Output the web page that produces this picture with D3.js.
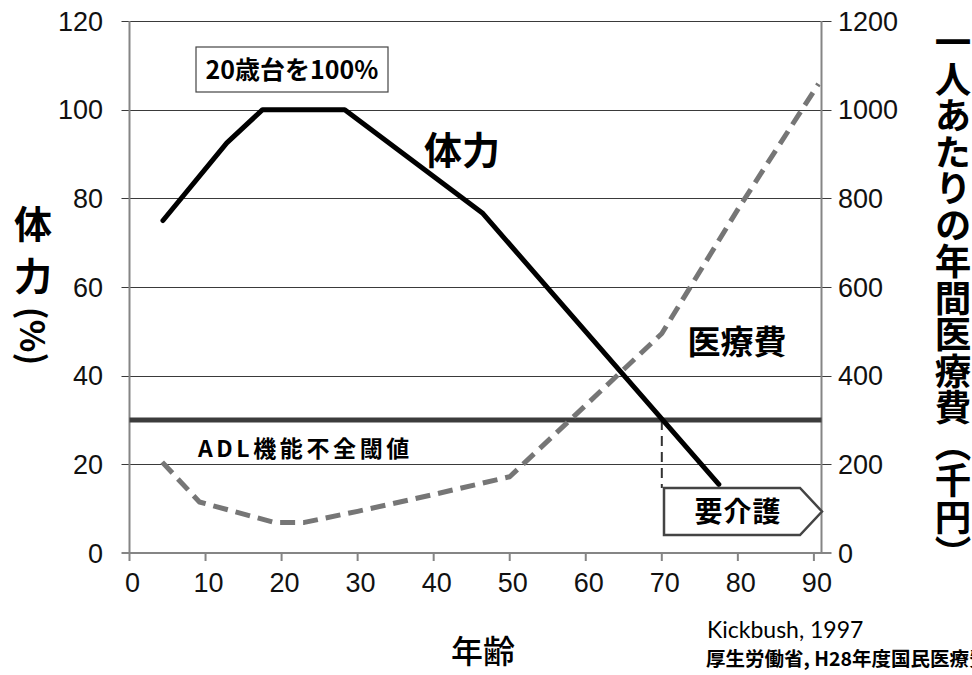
<!DOCTYPE html>
<html>
<head>
<meta charset="utf-8">
<script src="https://cdn.jsdelivr.net/npm/d3@7"></script>
<style>
  html, body { margin: 0; padding: 0; background: #fff; }
  svg { display: block; }
  .jp { font-family: "Noto Sans CJK JP", "Noto Sans CJK SC", sans-serif; }
  .num { font-family: "Liberation Sans", Arial, sans-serif; }
</style>
</head>
<body>
<svg id="chart" width="972" height="675"></svg>
<script>
// Age axis ticks and value axis ticks
const ageTicks = [0, 10, 20, 30, 40, 50, 60, 70, 80, 90];
const staminaTicks = [0, 20, 40, 60, 80, 100, 120];
const costTicks = [0, 200, 400, 600, 800, 1000, 1200];

// Physical strength (% of the 20s level) by age
const staminaAges = [4.4, 12.8, 17.5, 28.3, 46.4, 77.5];
const staminaValues = [75, 92.5, 100, 100, 76.7, 15.5];

// Annual medical cost per person (thousand yen) by age
const costAges = [4.3, 9.2, 19, 23, 30, 40, 50, 70, 80, 90.6];
const costValues = [205, 115, 69, 69, 94, 132, 172, 495, 775, 1058];

// ADL threshold (%) and the age where strength crosses it
const adlThreshold = 30;
const careAge = 70;

const svg = d3.select("#chart");
const plotL = 129.5, plotR = 821.5, plotT = 21, plotB = 553;

const x = d3.scaleLinear().domain([0, 91]).range([plotL, plotR]);
const yL = d3.scaleLinear().domain([0, 120]).range([plotB, plotT]);
const yR = d3.scaleLinear().domain([0, 1200]).range([plotB, plotT]);

// horizontal gridlines (extend past both axes as tick marks)
svg.append("g")
  .selectAll("line")
  .data(staminaTicks.filter(d => d > 0))
  .join("line")
  .attr("x1", plotL - 8).attr("x2", plotR + 10)
  .attr("y1", d => Math.round(yL(d)) + 0.5).attr("y2", d => Math.round(yL(d)) + 0.5)
  .attr("stroke", "#3a3a3a").attr("stroke-width", 1);

// axis lines
const axisColor = "#858585";
svg.append("line").attr("x1", plotL).attr("x2", plotL).attr("y1", plotT).attr("y2", plotB + 1)
  .attr("stroke", axisColor).attr("stroke-width", 2);
svg.append("line").attr("x1", plotR).attr("x2", plotR).attr("y1", plotT).attr("y2", plotB + 1)
  .attr("stroke", axisColor).attr("stroke-width", 2);
svg.append("line").attr("x1", plotL - 8).attr("x2", plotR + 10).attr("y1", plotB).attr("y2", plotB)
  .attr("stroke", axisColor).attr("stroke-width", 2);

// bottom tick marks
svg.append("g")
  .selectAll("line")
  .data(ageTicks)
  .join("line")
  .attr("x1", d => x(d)).attr("x2", d => x(d))
  .attr("y1", plotB).attr("y2", plotB + 8)
  .attr("stroke", axisColor).attr("stroke-width", 2);

// tick labels
svg.append("g").attr("class", "num")
  .selectAll("text")
  .data(staminaTicks)
  .join("text")
  .attr("x", 103).attr("y", d => yL(d))
  .attr("dy", "0.36em")
  .attr("text-anchor", "end")
  .attr("font-size", 27)
  .attr("fill", "#111")
  .text(d => d);

svg.append("g").attr("class", "num")
  .selectAll("text")
  .data(costTicks)
  .join("text")
  .attr("x", 838).attr("y", d => yR(d))
  .attr("dy", "0.36em")
  .attr("text-anchor", "start")
  .attr("font-size", 27)
  .attr("fill", "#111")
  .text(d => d);

svg.append("g").attr("class", "num")
  .selectAll("text")
  .data(ageTicks)
  .join("text")
  .attr("x", d => x(d) + 3).attr("y", 592)
  .attr("text-anchor", "middle")
  .attr("font-size", 27)
  .attr("fill", "#111")
  .text(d => d);

// ADL threshold line
svg.append("line")
  .attr("x1", plotL).attr("x2", plotR)
  .attr("y1", yL(adlThreshold)).attr("y2", yL(adlThreshold))
  .attr("stroke", "#3c3c3c").attr("stroke-width", 5);

// dashed drop line from the crossing to the care-needed marker
svg.append("line")
  .attr("x1", x(careAge)).attr("x2", x(careAge))
  .attr("y1", yL(adlThreshold)).attr("y2", 488)
  .attr("stroke", "#333").attr("stroke-width", 2)
  .attr("stroke-dasharray", "10,6");

// medical cost curve
const costLine = d3.line()
  .x((d, i) => x(costAges[i]))
  .y(d => yR(d));
svg.append("path")
  .attr("d", costLine(costValues))
  .attr("fill", "none")
  .attr("stroke", "#767676")
  .attr("stroke-width", 5)
  .attr("stroke-dasharray", "15,8")
  .attr("stroke-linejoin", "round");

// strength curve
const staminaLine = d3.line()
  .x((d, i) => x(staminaAges[i]))
  .y(d => yL(d));
svg.append("path")
  .attr("d", staminaLine(staminaValues))
  .attr("fill", "none")
  .attr("stroke", "#000")
  .attr("stroke-width", 5)
  .attr("stroke-linecap", "round")
  .attr("stroke-linejoin", "round");

// "20歳台を100%" note box
svg.append("rect")
  .attr("x", 196).attr("y", 47).attr("width", 192).attr("height", 45)
  .attr("fill", "#fff").attr("stroke", "#444").attr("stroke-width", 1.2);
svg.append("text").attr("class", "jp")
  .attr("x", 292).attr("y", 79)
  .attr("text-anchor", "middle")
  .attr("font-size", 25).attr("font-weight", 700)
  .text("20歳台を100%");

// series labels
svg.append("text").attr("class", "jp")
  .attr("x", 462).attr("y", 164)
  .attr("text-anchor", "middle")
  .attr("font-size", 38).attr("font-weight", 700)
  .text("体力");

svg.append("text").attr("class", "jp")
  .attr("x", 737).attr("y", 354)
  .attr("text-anchor", "middle")
  .attr("font-size", 33).attr("font-weight", 700)
  .text("医療費");

svg.append("text").attr("class", "jp")
  .attr("x", 198).attr("y", 457)
  .attr("font-size", 23).attr("font-weight", 700)
  .attr("letter-spacing", 3.6)
  .text("ADL機能不全閾値");

// care-needed arrow marker
const tag = d3.path();
tag.moveTo(664, 488);
tag.lineTo(800, 488);
tag.lineTo(822, 511.5);
tag.lineTo(800, 535);
tag.lineTo(664, 535);
tag.closePath();
svg.append("path")
  .attr("d", tag.toString())
  .attr("fill", "#fff").attr("stroke", "#444").attr("stroke-width", 2.5);
svg.append("text").attr("class", "jp")
  .attr("x", 738).attr("y", 522)
  .attr("text-anchor", "middle")
  .attr("font-size", 28).attr("font-weight", 700)
  .attr("letter-spacing", 1)
  .text("要介護");

// left axis title: two stacked characters, then the unit turned sideways
svg.append("text").attr("class", "jp")
  .attr("x", 33).attr("y", 238)
  .attr("text-anchor", "middle")
  .attr("font-size", 38).attr("font-weight", 700)
  .text("体");
svg.append("text").attr("class", "jp")
  .attr("x", 33).attr("y", 290)
  .attr("text-anchor", "middle")
  .attr("font-size", 38).attr("font-weight", 700)
  .text("力");
svg.append("text").attr("class", "jp")
  .attr("transform", "translate(20,336) rotate(90)")
  .attr("text-anchor", "middle")
  .attr("font-size", 34).attr("font-weight", 700)
  .text("(%)");

// right axis title, set vertically
svg.append("text").attr("class", "jp")
  .attr("x", 953).attr("y", 24)
  .style("writing-mode", "vertical-rl")
  .style("text-orientation", "mixed")
  .attr("font-size", 36.5).attr("font-weight", 700)
  .text("一人あたりの年間医療費（千円）");

// x axis title
svg.append("text").attr("class", "jp")
  .attr("x", 483).attr("y", 663)
  .attr("text-anchor", "middle")
  .attr("font-size", 32).attr("font-weight", 500)
  .text("年齢");

// sources
svg.append("text")
  .attr("x", 707).attr("y", 638)
  .attr("font-family", "Lato, 'Open Sans', sans-serif")
  .attr("font-size", 23)
  .text("Kickbush, 1997");
svg.append("text").attr("class", "jp")
  .attr("x", 706).attr("y", 666)
  .attr("font-size", 19.5).attr("font-weight", 700)
  .text("厚生労働省, H28年度国民医療費");
</script>
</body>
</html>
